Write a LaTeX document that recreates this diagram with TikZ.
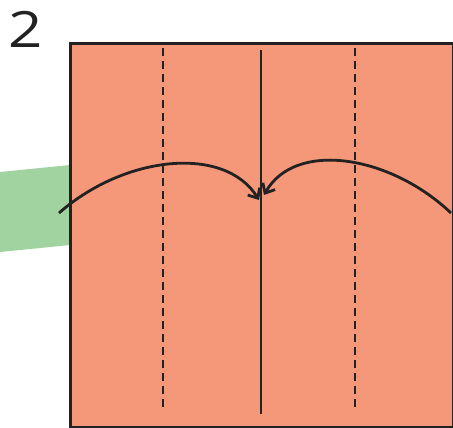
\documentclass[tikz,border=0pt]{standalone}
\usepackage{fontspec}
\setmainfont{Open Sans}
\usetikzlibrary{arrows.meta}
\definecolor{paper}{HTML}{F5987A}
\definecolor{band}{HTML}{A0D3A0}
\definecolor{ink}{HTML}{222222}
\tikzset{
  foldarrow/.style={draw=ink, line width=2.8pt, -{Straight Barb[length=8pt,width=14pt,line width=2.8pt]}},
  valley/.style={draw=ink, line width=1.3pt, dash pattern=on 8pt off 5pt},
  crease/.style={draw=ink, line width=1.3pt},
}
\begin{document}
\begin{tikzpicture}[x=1pt,y=-1pt]
\useasboundingbox (0,0) rectangle (453,428);
% green band
\fill[band] (0,172) -- (80,164) -- (80,244) -- (0,252) -- cycle;
% paper square
\node[draw=ink, fill=paper, line width=3pt, minimum width=383pt, minimum height=384pt, inner sep=0pt, anchor=north west] (sq) at (69,42) {};
% step number
\node[font=\fontsize{50}{50}\selectfont, text=ink, anchor=center, xscale=1.2] (num) at (26,29) {2};
% creases
\coordinate (dl1) at (163,48); \coordinate (dl2) at (163,410);
\coordinate (dr1) at (355,48); \coordinate (dr2) at (355,410);
\coordinate (c1) at (261,50); \coordinate (c2) at (261,414);
\draw[valley] (dl1) -- (dl2);
\draw[valley] (dr1) -- (dr2);
\draw[crease] (c1) -- (c2);
% fold arrows
\coordinate (la) at (59,213); \coordinate (lb) at (259,200);
\coordinate (ra) at (451,213); \coordinate (rb) at (264,195);
\draw[foldarrow] (la) .. controls (125,155) and (225,145) .. (lb);
\draw[foldarrow] (ra) .. controls (390,155) and (295,140) .. (rb);
\end{tikzpicture}
\end{document}
